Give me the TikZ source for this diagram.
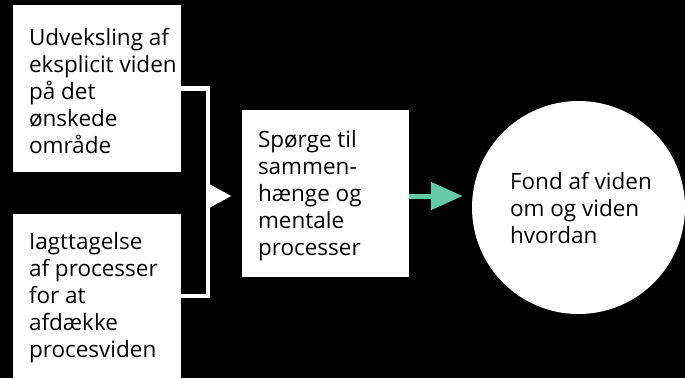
\documentclass[tikz,border=0pt]{standalone}
\usepackage{fontspec}
\setmainfont{Open Sans}
\usetikzlibrary{arrows.meta}
\definecolor{arrowgreen}{HTML}{66C9A5}
\tikzset{
  txt/.style={font=\fontsize{22.5}{27}\selectfont, align=left, text=black, inner sep=0pt, anchor=west},
  box/.style={fill=white, draw=none, rectangle, inner sep=0pt},
  bracket/.style={draw=white, line width=4.5pt},
  flow/.style={draw=arrowgreen, line width=5pt, -{Triangle[length=32pt,width=27pt]}, shorten >=9pt},
}
\begin{document}
\begin{tikzpicture}[x=1pt,y=-1pt]
\useasboundingbox (0,0) rectangle (685,378);
\fill[black] (0,0) rectangle (685,378);
\node[box, minimum width=168pt, minimum height=167pt] (b1) at (97,88.5) {};
\node[box, minimum width=168pt, minimum height=164pt] (b2) at (97,296) {};
\node[box, minimum width=167pt, minimum height=167pt] (b3) at (325.5,193.5) {};
\node[circle, fill=white, minimum size=213pt, inner sep=0pt] (c) at (578.5,207.5) {};
\node[txt] (t1) at ([xshift=16pt,yshift=-2pt]b1.west) {Udveksling af\\eksplicit viden\\på det\\ønskede\\område};
\node[txt] (t2) at ([xshift=16pt,yshift=-2pt]b2.west) {Iagttagelse\\af processer\\for at\\afdække\\procesviden};
\node[txt] (t3) at ([xshift=16pt,yshift=-2pt]b3.west) {Spørge til\\sammen-\\hænge og\\mentale\\processer};
\node[txt] (t4) at ([xshift=38pt,yshift=0pt]c.west) {Fond af viden\\om og viden\\hvordan};
\draw[bracket] (b1.east) -- ++(27,0) coordinate (bt) |- (b2.east);
\coordinate (bm) at (bt |- b3.west);
\fill[white] ([yshift=-15pt]bm) -- ([xshift=23pt,yshift=-2.5pt]bm) -- ([yshift=10pt]bm) -- cycle;
\draw[flow] ([yshift=-2.5pt]b3.east) -- ([yshift=-2.5pt]b3.east -| c.west);
\end{tikzpicture}
\end{document}
